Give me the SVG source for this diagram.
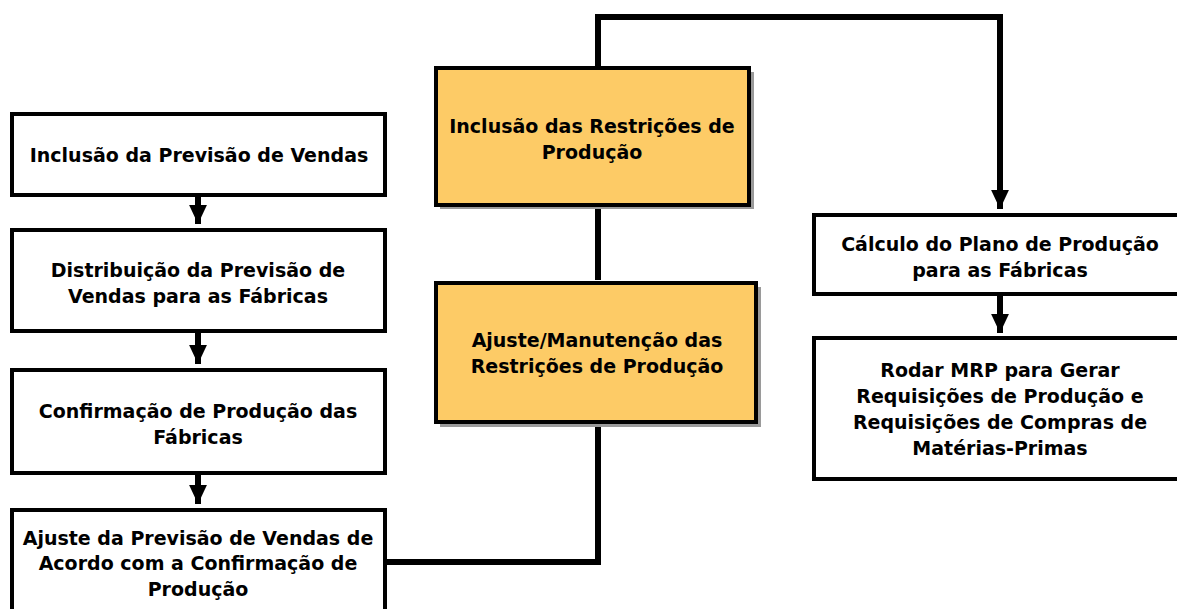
<svg xmlns="http://www.w3.org/2000/svg" width="1177" height="609" viewBox="0 0 1177 609">
<defs>
<style>
.box{fill:#ffffff;stroke:#000;stroke-width:4}
.org{fill:#fdcb66;stroke:#000;stroke-width:4}
.shd{fill:#9a9a9a}
.t{font-family:"DejaVu Sans",Verdana,sans-serif;font-weight:bold;font-size:19px;fill:#000;text-anchor:middle}
.c{fill:none;stroke:#000;stroke-width:6}
</style>
<marker id="ah" markerWidth="4" markerHeight="3" refX="3.2" refY="1.5" orient="auto" markerUnits="strokeWidth">
<path d="M0,0 L3.2,1.5 L0,3 Z" fill="#000"/>
</marker>
</defs>
<rect width="1177" height="609" fill="#fff"/>
<g id="connectors">
<path class="c" d="M198,197 L198,224" marker-end="url(#ah)"/>
<path class="c" d="M198,333 L198,364" marker-end="url(#ah)"/>
<path class="c" d="M198,475 L198,504" marker-end="url(#ah)"/>
<path class="c" d="M387,562 L598,562 L598,425"/>
<path class="c" d="M598,207 L598,280"/>
<path class="c" d="M598,67 L598,17 L1000,17 L1000,209" marker-end="url(#ah)"/>
<path class="c" d="M1000,296 L1000,333" marker-end="url(#ah)"/>
</g>
<g id="n1">
<rect class="box" x="12" y="114" width="373" height="81"/>
<text class="t" x="199" y="162">Inclusão da Previsão de Vendas</text>
</g>
<g id="n2">
<rect class="box" x="12" y="230" width="373" height="101"/>
<text class="t" x="198" y="277">Distribuição da Previsão de</text>
<text class="t" x="198" y="303">Vendas para as Fábricas</text>
</g>
<g id="n3">
<rect class="box" x="12" y="370" width="373" height="103"/>
<text class="t" x="198" y="418">Confirmação de Produção das</text>
<text class="t" x="198" y="444">Fábricas</text>
</g>
<g id="n4">
<rect class="box" x="12" y="510" width="373" height="110"/>
<text class="t" x="198" y="545">Ajuste da Previsão de Vendas de</text>
<text class="t" x="198" y="570">Acordo com a Confirmação de</text>
<text class="t" x="198" y="596">Produção</text>
</g>
<g id="n5">
<rect class="shd" x="440" y="72" width="314" height="137"/>
<rect class="org" x="436" y="68" width="313" height="137"/>
<text class="t" x="592" y="133">Inclusão das Restrições de</text>
<text class="t" x="592" y="159">Produção</text>
</g>
<g id="n6">
<rect class="shd" x="440" y="287" width="321" height="140"/>
<rect class="org" x="436" y="283" width="320" height="139"/>
<text class="t" x="597" y="347">Ajuste/Manutenção das</text>
<text class="t" x="597" y="373">Restrições de Produção</text>
</g>
<g id="n7">
<rect class="box" x="814" y="215" width="380" height="79"/>
<text class="t" x="1000" y="251">Cálculo do Plano de Produção</text>
<text class="t" x="1000" y="277">para as Fábricas</text>
</g>
<g id="n8">
<rect class="box" x="814" y="338" width="380" height="141"/>
<text class="t" x="1000" y="377">Rodar MRP para Gerar</text>
<text class="t" x="1000" y="403">Requisições de Produção e</text>
<text class="t" x="1000" y="429">Requisições de Compras de</text>
<text class="t" x="1000" y="455">Matérias-Primas</text>
</g>
</svg>
